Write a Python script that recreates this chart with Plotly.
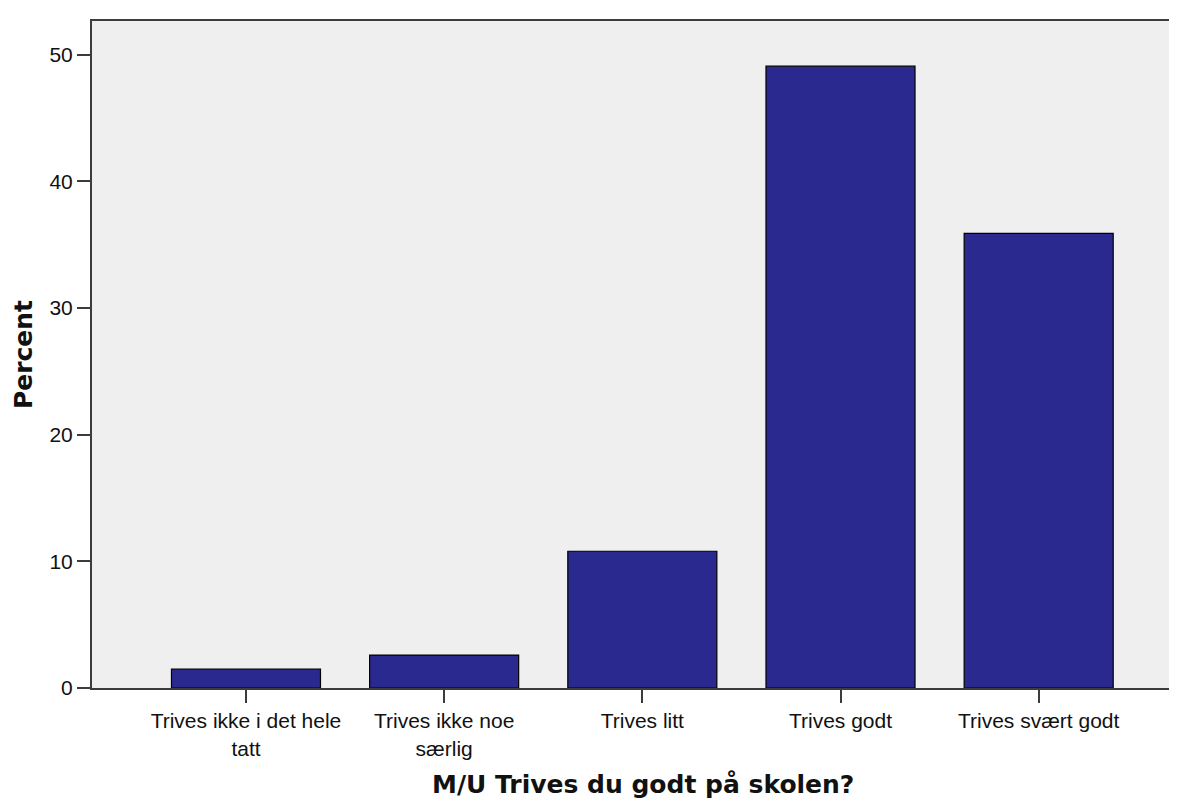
import plotly.graph_objects as go

# survey answers and share of respondents (percent)
categories = ["Trives ikke i det hele<br>tatt", "Trives ikke noe<br>særlig",
              "Trives litt", "Trives godt", "Trives svært godt"]
percent = [1.5, 2.6, 10.8, 49.1, 35.9]
y_ticks = [0, 10, 20, 30, 40, 50]

axis_col = "#3c3c3c"

fig = go.Figure()
fig.add_trace(go.Bar(
    x=list(range(len(categories))),
    y=percent,
    marker=dict(color="#29298f", line=dict(color="black", width=1.2)),
    width=0.752,
    showlegend=False,
))

# page body has an 8px margin, so the figure is a bit smaller than the window
fig.update_layout(
    width=1169, height=793,
    margin=dict(l=84, r=0, t=13, b=113),
    paper_bgcolor="white",
    plot_bgcolor="#efefef",
    font=dict(family="Liberation Sans, Arial", size=21, color="#111"),
    xaxis=dict(
        tickmode="array", tickvals=list(range(len(categories))), ticktext=categories,
        range=[-0.777, 4.698],
        showline=True, linecolor=axis_col, linewidth=2, mirror=True,
        ticks="outside", ticklen=13, tickwidth=2, tickcolor=axis_col,
        showgrid=False, zeroline=False,
    ),
    yaxis=dict(
        tickvals=y_ticks, range=[0, 52.67],
        showline=True, linecolor=axis_col, linewidth=2,
        ticks="outside", ticklen=13, tickwidth=2, tickcolor=axis_col,
        showgrid=False, zeroline=False,
        title=dict(text="<b>Percent</b>", standoff=10,
                   font=dict(family="DejaVu Sans", size=25, color="#111")),
    ),
    bargap=0.25,
)

fig.add_annotation(
    text="<b>M/U Trives du godt på skolen?</b>",
    xref="paper", yref="paper", x=(635 - 84) / 1085, y=-96 / 667,
    xanchor="center", yanchor="middle", showarrow=False,
    font=dict(family="DejaVu Sans", size=25, color="#111"),
)

fig.write_html("out.html")
